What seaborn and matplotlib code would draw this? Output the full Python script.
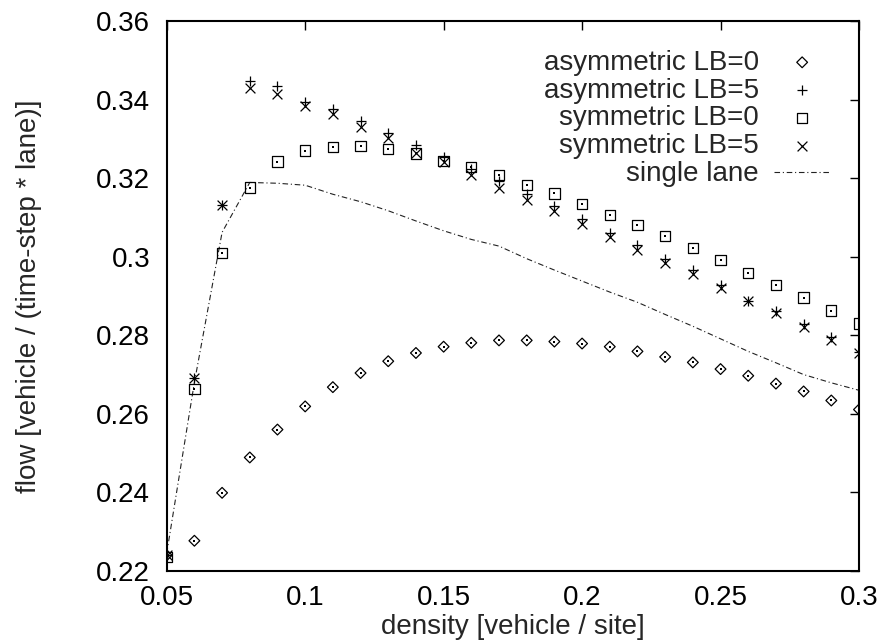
import matplotlib
matplotlib.use("Agg")
import matplotlib.pyplot as plt
import seaborn as sns
import pandas as pd

density = [0.05, 0.06, 0.07, 0.08, 0.09, 0.10, 0.11, 0.12, 0.13, 0.14, 0.15, 0.16, 0.17,
           0.18, 0.19, 0.20, 0.21, 0.22, 0.23, 0.24, 0.25, 0.26, 0.27, 0.28, 0.29, 0.30]

asym_lb0 = [0.2240, 0.2277, 0.2399, 0.2489, 0.2560, 0.2619, 0.2668, 0.2704, 0.2734, 0.2755,
            0.2771, 0.2781, 0.2787, 0.2787, 0.2784, 0.2779, 0.2771, 0.2759, 0.2745, 0.2731,
            0.2714, 0.2697, 0.2677, 0.2657, 0.2634, 0.2611]
asym_lb5 = [0.2240, 0.2690, 0.3132, 0.3446, 0.3434, 0.3395, 0.3376, 0.3346, 0.3315, 0.3284,
            0.3255, 0.3223, 0.3193, 0.3159, 0.3128, 0.3097, 0.3061, 0.3029, 0.2993, 0.2965,
            0.2927, 0.2888, 0.2862, 0.2829, 0.2796, 0.2757]
sym_lb0 = [0.2235, 0.2664, 0.3009, 0.3176, 0.3242, 0.3270, 0.3280, 0.3281, 0.3274, 0.3263,
           0.3244, 0.3229, 0.3208, 0.3183, 0.3161, 0.3135, 0.3106, 0.3080, 0.3053, 0.3022,
           0.2991, 0.2959, 0.2928, 0.2896, 0.2863, 0.2830]
sym_lb5 = [0.2240, 0.2690, 0.3132, 0.3429, 0.3414, 0.3384, 0.3363, 0.3329, 0.3302, 0.3264,
           0.3240, 0.3208, 0.3174, 0.3145, 0.3117, 0.3083, 0.3050, 0.3017, 0.2983, 0.2955,
           0.2921, 0.2887, 0.2856, 0.2822, 0.2788, 0.2755]
single_lane = [0.2245, 0.2680, 0.3062, 0.3189, 0.3187, 0.3182, 0.3159, 0.3140, 0.3117, 0.3091,
               0.3066, 0.3044, 0.3027, 0.2995, 0.2966, 0.2938, 0.2910, 0.2884, 0.2853, 0.2823,
               0.2791, 0.2759, 0.2730, 0.2700, 0.2679, 0.2660]

labels = ["asymmetric LB=0", "asymmetric LB=5", "symmetric LB=0", "symmetric LB=5", "single lane"]
xticks = [0.05, 0.1, 0.15, 0.2, 0.25, 0.3]
xticklabels = ["0.05", "0.1", "0.15", "0.2", "0.25", "0.3"]
yticks = [0.22, 0.24, 0.26, 0.28, 0.30, 0.32, 0.34, 0.36]
yticklabels = ["0.22", "0.24", "0.26", "0.28", "0.3", "0.32", "0.34", "0.36"]

df = pd.DataFrame({"density": density, "asym0": asym_lb0, "asym5": asym_lb5,
                   "sym0": sym_lb0, "sym5": sym_lb5, "single": single_lane})

sns.set_style("white")
plt.rcParams['font.family'] = ['Liberation Sans', 'DejaVu Sans']
plt.rcParams['font.size'] = 20

fig = plt.figure(figsize=(8.8, 6.43), dpi=100)
ax = fig.add_axes([166.7 / 880, 1 - 571 / 643, (859 - 166.7) / 880, (571 - 21) / 643])

k = "black"
sns.lineplot(data=df, x="density", y="single", ax=ax, color="#222222", linewidth=0.8,
             dashes=False, label=labels[4], zorder=2)
ax.lines[-1].set_dashes([5, 2.5, 1, 2.5])

sns.scatterplot(data=df, x="density", y="asym0", ax=ax, marker="D", s=30,
                facecolor="none", edgecolor=k, linewidth=0.9, label=labels[0], zorder=3)
sns.scatterplot(data=df, x="density", y="asym5", ax=ax, marker="+", s=50,
                color=k, linewidth=0.9, label=labels[1], zorder=3)
sns.scatterplot(data=df, x="density", y="sym0", ax=ax, marker="s", s=55,
                facecolor="none", edgecolor=k, linewidth=0.9, label=labels[2], zorder=3)
sns.scatterplot(data=df, x="density", y="sym5", ax=ax, marker="x", s=50,
                color=k, linewidth=0.9, label=labels[3], zorder=3)
# center dots of gnuplot boxes / diamonds
sns.scatterplot(data=df, x="density", y="asym0", ax=ax, marker="s", s=0.6,
                color=k, linewidth=0, legend=False, zorder=4)
sns.scatterplot(data=df, x="density", y="sym0", ax=ax, marker="s", s=0.6,
                color=k, linewidth=0, legend=False, zorder=4)

ax.set_xlim(0.05, 0.3)
ax.set_ylim(0.22, 0.36)
ax.set_xticks(xticks)
ax.set_xticklabels(xticklabels)
ax.set_yticks(yticks)
ax.set_yticklabels(yticklabels)
ax.tick_params(direction="in", length=6.5, width=1, top=True, right=True,
               labelsize=20, colors=k)
ax.tick_params(axis="x", pad=10)
ax.tick_params(axis="y", pad=12)
for sp in ax.spines.values():
    sp.set_linewidth(1.5)
    sp.set_color(k)
    sp.set_visible(True)

ax.set_xlabel("density [vehicle / site]", fontsize=20)
ax.set_ylabel("flow [vehicle / (time-step * lane)]", fontsize=20)
ax.xaxis.set_label_coords(0.5, -0.079)
ax.yaxis.set_label_coords(-0.18, 0.5)

handles, labs = ax.get_legend_handles_labels()
order = [labs.index(l) for l in labels]
ax.legend([handles[i] for i in order], [labs[i] for i in order],
          loc="upper right", bbox_to_anchor=(0.958, 0.948), frameon=False,
          markerfirst=False, borderpad=0, borderaxespad=0, labelspacing=0.07,
          handletextpad=0.55, handlelength=2.0, fontsize=20)

fig.savefig("out.png", dpi=100)
